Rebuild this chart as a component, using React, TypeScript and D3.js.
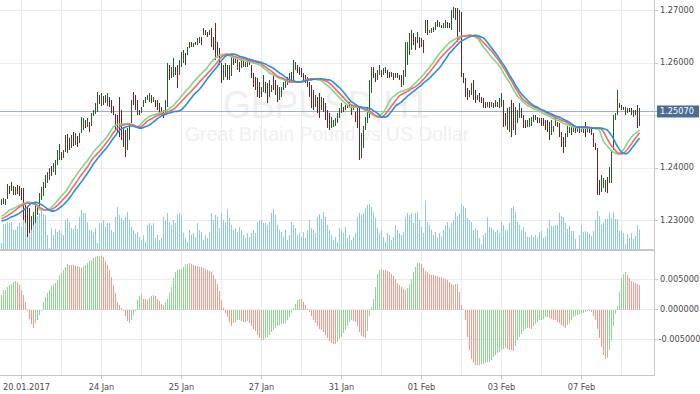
import React, { useRef, useEffect } from 'react';
import * as d3 from 'd3';

const symbol = 'GBPUSD,H1';
const description = 'Great Britain Pound vs US Dollar';
const dateLabels = ['20.01.2017', '24 Jan', '25 Jan', '27 Jan', '31 Jan', '01 Feb', '03 Feb', '07 Feb'];
const priceTicks = [1.23, 1.24, 1.25, 1.26, 1.27];
const aoTicks = [-0.005, 0, 0.005];
const lastPrice = 1.2507;

// H1 bars, oldest first
const opens = [
  1.2330,1.2340,1.2331,1.2343,1.2363,1.2357,1.2363,1.2349,1.2364,1.2363,
  1.2359,1.2358,1.2326,1.2322,1.2320,1.2284,1.2293,1.2298,1.2326,1.2330,
  1.2341,1.2349,1.2364,1.2372,1.2378,1.2401,1.2393,1.2388,1.2407,1.2417,
  1.2427,1.2420,1.2432,1.2460,1.2454,1.2439,1.2465,1.2444,1.2458,1.2448,
  1.2468,1.2474,1.2488,1.2479,1.2484,1.2483,1.2501,1.2504,1.2509,1.2536,
  1.2521,1.2535,1.2525,1.2521,1.2533,1.2527,1.2516,1.2499,1.2497,1.2530,
  1.2506,1.2474,1.2467,1.2437,1.2455,1.2488,1.2541,1.2535,1.2526,1.2508,
  1.2505,1.2518,1.2525,1.2530,1.2527,1.2536,1.2526,1.2527,1.2527,1.2521,
  1.2514,1.2508,1.2506,1.2524,1.2592,1.2573,1.2576,1.2590,1.2592,1.2579,
  1.2595,1.2601,1.2616,1.2616,1.2630,1.2638,1.2631,1.2634,1.2635,1.2638,
  1.2647,1.2654,1.2660,1.2657,1.2653,1.2663,1.2647,1.2670,1.2636,1.2625,
  1.2596,1.2570,1.2576,1.2592,1.2570,1.2578,1.2609,1.2608,1.2589,1.2599,
  1.2592,1.2603,1.2593,1.2594,1.2604,1.2593,1.2578,1.2571,1.2569,1.2561,
  1.2537,1.2547,1.2561,1.2558,1.2538,1.2546,1.2573,1.2564,1.2554,1.2531,
  1.2537,1.2550,1.2554,1.2559,1.2563,1.2580,1.2570,1.2588,1.2593,1.2590,
  1.2588,1.2578,1.2574,1.2571,1.2560,1.2554,1.2545,1.2518,1.2532,1.2538,
  1.2512,1.2530,1.2520,1.2507,1.2501,1.2477,1.2479,1.2482,1.2486,1.2497,
  1.2506,1.2515,1.2511,1.2518,1.2515,1.2517,1.2511,1.2504,1.2511,1.2510,
  1.2422,1.2441,1.2474,1.2487,1.2500,1.2546,1.2590,1.2578,1.2569,1.2578,
  1.2584,1.2578,1.2582,1.2584,1.2581,1.2574,1.2578,1.2572,1.2579,1.2575,
  1.2574,1.2560,1.2578,1.2599,1.2618,1.2628,1.2654,1.2646,1.2639,1.2647,
  1.2645,1.2640,1.2659,1.2678,1.2657,1.2658,1.2660,1.2664,1.2679,1.2669,
  1.2670,1.2667,1.2668,1.2676,1.2674,1.2665,1.2687,1.2702,1.2700,1.2662,
  1.2690,1.2578,1.2568,1.2550,1.2537,1.2540,1.2564,1.2546,1.2530,1.2540,
  1.2534,1.2531,1.2524,1.2517,1.2524,1.2517,1.2522,1.2517,1.2524,1.2516,
  1.2519,1.2525,1.2502,1.2475,1.2471,1.2524,1.2519,1.2466,1.2487,1.2498,
  1.2512,1.2498,1.2488,1.2479,1.2479,1.2482,1.2488,1.2499,1.2495,1.2486,
  1.2493,1.2493,1.2488,1.2488,1.2483,1.2464,1.2469,1.2482,1.2485,1.2482,
  1.2465,1.2455,1.2442,1.2461,1.2467,1.2475,1.2468,1.2474,1.2469,1.2476,
  1.2468,1.2476,1.2483,1.2468,1.2476,1.2474,1.2463,1.2445,1.2432,1.2373,
  1.2356,1.2363,1.2355,1.2379,1.2373,1.2375,1.2438,1.2492,1.2504,1.2522,
  1.2518,1.2515,1.2502,1.2505,1.2513,1.2512,1.2499,1.2509,1.2516,1.2484,
];
const highs = [
  1.2340,1.2342,1.2340,1.2368,1.2365,1.2372,1.2365,1.2363,1.2366,1.2365,
  1.2361,1.2361,1.2328,1.2325,1.2323,1.2308,1.2315,1.2332,1.2328,1.2351,
  1.2363,1.2372,1.2385,1.2391,1.2399,1.2403,1.2408,1.2414,1.2433,1.2444,
  1.2429,1.2433,1.2461,1.2463,1.2456,1.2461,1.2467,1.2465,1.2460,1.2465,
  1.2497,1.2495,1.2490,1.2495,1.2486,1.2504,1.2510,1.2523,1.2544,1.2538,
  1.2542,1.2537,1.2538,1.2542,1.2535,1.2529,1.2518,1.2502,1.2500,1.2535,
  1.2510,1.2477,1.2471,1.2475,1.2484,1.2529,1.2544,1.2538,1.2529,1.2510,
  1.2516,1.2529,1.2535,1.2538,1.2542,1.2538,1.2535,1.2529,1.2529,1.2523,
  1.2516,1.2510,1.2529,1.2599,1.2595,1.2592,1.2609,1.2592,1.2595,1.2605,
  1.2620,1.2624,1.2618,1.2630,1.2639,1.2639,1.2637,1.2639,1.2647,1.2649,
  1.2649,1.2666,1.2662,1.2658,1.2662,1.2666,1.2649,1.2675,1.2639,1.2628,
  1.2599,1.2595,1.2599,1.2595,1.2595,1.2611,1.2611,1.2609,1.2611,1.2601,
  1.2605,1.2605,1.2601,1.2605,1.2605,1.2595,1.2580,1.2573,1.2571,1.2563,
  1.2554,1.2576,1.2563,1.2561,1.2567,1.2557,1.2576,1.2567,1.2557,1.2554,
  1.2554,1.2563,1.2567,1.2573,1.2580,1.2582,1.2605,1.2601,1.2595,1.2592,
  1.2590,1.2580,1.2576,1.2573,1.2563,1.2557,1.2548,1.2538,1.2535,1.2542,
  1.2535,1.2533,1.2523,1.2510,1.2504,1.2497,1.2490,1.2495,1.2504,1.2514,
  1.2523,1.2516,1.2519,1.2519,1.2525,1.2519,1.2519,1.2506,1.2514,1.2516,
  1.2465,1.2480,1.2497,1.2516,1.2567,1.2592,1.2592,1.2580,1.2586,1.2595,
  1.2586,1.2590,1.2592,1.2586,1.2582,1.2582,1.2580,1.2580,1.2580,1.2576,
  1.2576,1.2586,1.2639,1.2639,1.2656,1.2662,1.2656,1.2649,1.2658,1.2649,
  1.2647,1.2643,1.2681,1.2681,1.2662,1.2666,1.2668,1.2677,1.2681,1.2677,
  1.2671,1.2675,1.2681,1.2677,1.2675,1.2700,1.2706,1.2704,1.2704,1.2700,
  1.2696,1.2580,1.2571,1.2552,1.2548,1.2561,1.2567,1.2548,1.2538,1.2542,
  1.2535,1.2533,1.2525,1.2525,1.2525,1.2525,1.2523,1.2529,1.2525,1.2533,
  1.2542,1.2529,1.2504,1.2514,1.2516,1.2529,1.2523,1.2516,1.2510,1.2523,
  1.2514,1.2500,1.2490,1.2490,1.2495,1.2497,1.2500,1.2500,1.2497,1.2495,
  1.2495,1.2495,1.2490,1.2490,1.2486,1.2490,1.2480,1.2495,1.2486,1.2484,
  1.2467,1.2458,1.2465,1.2480,1.2477,1.2477,1.2475,1.2475,1.2480,1.2477,
  1.2477,1.2477,1.2486,1.2477,1.2477,1.2475,1.2465,1.2446,1.2437,1.2376,
  1.2386,1.2380,1.2376,1.2382,1.2401,1.2433,1.2500,1.2504,1.2548,1.2523,
  1.2519,1.2516,1.2516,1.2514,1.2514,1.2514,1.2510,1.2510,1.2519,1.2514,
];
const lows = [
  1.2328,1.2330,1.2328,1.2340,1.2349,1.2355,1.2347,1.2347,1.2349,1.2346,
  1.2338,1.2300,1.2294,1.2268,1.2275,1.2281,1.2290,1.2294,1.2309,1.2327,
  1.2338,1.2346,1.2361,1.2370,1.2376,1.2384,1.2391,1.2385,1.2404,1.2414,
  1.2414,1.2418,1.2429,1.2427,1.2433,1.2437,1.2441,1.2442,1.2439,1.2446,
  1.2465,1.2471,1.2475,1.2477,1.2467,1.2480,1.2499,1.2502,1.2506,1.2521,
  1.2518,1.2519,1.2523,1.2518,1.2516,1.2504,1.2500,1.2471,1.2465,1.2458,
  1.2452,1.2439,1.2420,1.2433,1.2452,1.2484,1.2519,1.2510,1.2500,1.2500,
  1.2504,1.2516,1.2523,1.2529,1.2525,1.2523,1.2525,1.2516,1.2510,1.2504,
  1.2500,1.2495,1.2504,1.2516,1.2567,1.2571,1.2573,1.2576,1.2552,1.2576,
  1.2592,1.2599,1.2595,1.2614,1.2628,1.2630,1.2630,1.2633,1.2633,1.2637,
  1.2633,1.2652,1.2652,1.2649,1.2652,1.2630,1.2624,1.2605,1.2609,1.2595,
  1.2561,1.2567,1.2573,1.2567,1.2567,1.2575,1.2595,1.2599,1.2586,1.2582,
  1.2590,1.2592,1.2592,1.2592,1.2595,1.2571,1.2554,1.2548,1.2535,1.2532,
  1.2535,1.2544,1.2542,1.2523,1.2535,1.2544,1.2548,1.2538,1.2525,1.2529,
  1.2535,1.2548,1.2552,1.2557,1.2561,1.2561,1.2567,1.2586,1.2580,1.2576,
  1.2573,1.2567,1.2561,1.2554,1.2535,1.2514,1.2510,1.2516,1.2504,1.2495,
  1.2510,1.2506,1.2490,1.2475,1.2471,1.2475,1.2477,1.2480,1.2484,1.2495,
  1.2504,1.2506,1.2510,1.2514,1.2514,1.2500,1.2510,1.2486,1.2475,1.2414,
  1.2418,1.2437,1.2471,1.2484,1.2495,1.2542,1.2571,1.2563,1.2567,1.2576,
  1.2573,1.2576,1.2580,1.2571,1.2571,1.2573,1.2567,1.2571,1.2571,1.2567,
  1.2554,1.2557,1.2573,1.2595,1.2614,1.2624,1.2633,1.2624,1.2637,1.2628,
  1.2630,1.2618,1.2656,1.2652,1.2656,1.2656,1.2658,1.2662,1.2668,1.2668,
  1.2666,1.2666,1.2666,1.2666,1.2666,1.2662,1.2685,1.2681,1.2639,1.2658,
  1.2573,1.2561,1.2535,1.2529,1.2535,1.2538,1.2529,1.2523,1.2529,1.2525,
  1.2523,1.2514,1.2514,1.2516,1.2514,1.2516,1.2514,1.2516,1.2516,1.2514,
  1.2516,1.2477,1.2480,1.2471,1.2467,1.2458,1.2471,1.2461,1.2484,1.2495,
  1.2495,1.2475,1.2475,1.2477,1.2477,1.2480,1.2486,1.2490,1.2484,1.2484,
  1.2480,1.2480,1.2471,1.2467,1.2452,1.2461,1.2467,1.2480,1.2477,1.2458,
  1.2439,1.2427,1.2439,1.2458,1.2465,1.2461,1.2467,1.2465,1.2467,1.2465,
  1.2467,1.2465,1.2458,1.2467,1.2465,1.2461,1.2439,1.2433,1.2348,1.2348,
  1.2353,1.2361,1.2353,1.2351,1.2370,1.2370,1.2433,1.2490,1.2500,1.2514,
  1.2510,1.2510,1.2500,1.2504,1.2506,1.2500,1.2497,1.2500,1.2475,1.2480,
];
const closes = [
  1.2338,1.2332,1.2338,1.2365,1.2351,1.2370,1.2349,1.2361,1.2351,1.2348,
  1.2340,1.2304,1.2297,1.2272,1.2278,1.2305,1.2312,1.2328,1.2311,1.2348,
  1.2360,1.2369,1.2382,1.2388,1.2396,1.2386,1.2406,1.2411,1.2430,1.2441,
  1.2416,1.2431,1.2458,1.2430,1.2435,1.2458,1.2443,1.2463,1.2441,1.2463,
  1.2494,1.2492,1.2477,1.2493,1.2469,1.2501,1.2508,1.2520,1.2540,1.2523,
  1.2539,1.2521,1.2536,1.2539,1.2518,1.2506,1.2502,1.2474,1.2468,1.2462,
  1.2456,1.2442,1.2424,1.2471,1.2481,1.2525,1.2521,1.2513,1.2503,1.2502,
  1.2514,1.2527,1.2533,1.2537,1.2540,1.2525,1.2534,1.2518,1.2512,1.2506,
  1.2502,1.2497,1.2527,1.2590,1.2570,1.2590,1.2606,1.2578,1.2555,1.2602,
  1.2617,1.2622,1.2597,1.2628,1.2637,1.2631,1.2636,1.2638,1.2645,1.2648,
  1.2635,1.2664,1.2654,1.2650,1.2661,1.2633,1.2627,1.2610,1.2612,1.2598,
  1.2564,1.2592,1.2596,1.2570,1.2592,1.2608,1.2597,1.2600,1.2608,1.2584,
  1.2603,1.2594,1.2600,1.2603,1.2597,1.2573,1.2556,1.2550,1.2538,1.2535,
  1.2552,1.2573,1.2544,1.2526,1.2564,1.2555,1.2551,1.2541,1.2528,1.2552,
  1.2552,1.2561,1.2565,1.2571,1.2578,1.2563,1.2601,1.2599,1.2582,1.2578,
  1.2575,1.2569,1.2563,1.2556,1.2538,1.2517,1.2513,1.2536,1.2507,1.2499,
  1.2532,1.2509,1.2493,1.2478,1.2474,1.2495,1.2488,1.2493,1.2502,1.2512,
  1.2521,1.2507,1.2518,1.2515,1.2524,1.2502,1.2518,1.2488,1.2478,1.2420,
  1.2460,1.2476,1.2494,1.2513,1.2560,1.2588,1.2573,1.2565,1.2584,1.2593,
  1.2575,1.2588,1.2590,1.2573,1.2572,1.2581,1.2569,1.2579,1.2572,1.2568,
  1.2556,1.2583,1.2632,1.2635,1.2652,1.2658,1.2635,1.2627,1.2656,1.2630,
  1.2632,1.2621,1.2678,1.2655,1.2661,1.2664,1.2667,1.2675,1.2670,1.2676,
  1.2667,1.2674,1.2679,1.2667,1.2667,1.2696,1.2704,1.2683,1.2643,1.2696,
  1.2578,1.2563,1.2538,1.2531,1.2546,1.2559,1.2532,1.2525,1.2537,1.2527,
  1.2524,1.2516,1.2515,1.2524,1.2515,1.2524,1.2515,1.2527,1.2517,1.2531,
  1.2539,1.2481,1.2482,1.2510,1.2512,1.2463,1.2475,1.2512,1.2507,1.2520,
  1.2497,1.2477,1.2477,1.2488,1.2493,1.2495,1.2498,1.2491,1.2486,1.2493,
  1.2482,1.2482,1.2473,1.2469,1.2456,1.2487,1.2478,1.2493,1.2478,1.2461,
  1.2442,1.2430,1.2462,1.2477,1.2475,1.2463,1.2474,1.2466,1.2478,1.2466,
  1.2476,1.2466,1.2461,1.2476,1.2466,1.2463,1.2442,1.2434,1.2352,1.2351,
  1.2383,1.2378,1.2373,1.2354,1.2398,1.2428,1.2495,1.2502,1.2543,1.2515,
  1.2511,1.2511,1.2514,1.2513,1.2507,1.2502,1.2508,1.2501,1.2479,1.2507,
];
const volumes = [
  670,2600,2600,2800,2700,2800,2100,2000,2400,2700,
  2300,3800,3000,3000,2700,2800,3300,3000,3400,3700,
  4200,3600,3500,1500,200,2200,1500,2100,1800,2000,
  1700,1500,3000,3200,2800,2200,2100,2500,2100,3300,
  4000,3700,3700,2800,2000,2000,1700,2200,700,2700,
  2700,3000,2300,2700,2700,2000,1800,3300,4300,3500,
  3200,3000,3300,3800,3000,2300,2000,1600,1800,1300,
  1000,1500,800,2500,2700,2500,2700,1200,1500,1000,
  1200,3300,3000,3700,2800,2500,3000,2700,3500,3700,
  3500,1700,1200,800,2000,1500,1700,1300,2700,2000,
  1800,1000,1500,1200,1700,3700,3000,3500,3300,2200,
  3700,3000,2800,4100,3200,2500,2000,2200,1800,2300,
  2000,1500,1200,1700,1300,1700,2000,1700,2800,3000,
  3000,2700,2700,2500,2800,3700,4100,3500,2500,2000,
  1800,1300,2000,1000,1500,2800,2500,2200,1500,1700,
  1300,1800,1200,2000,3000,2200,2000,1700,3300,3600,
  3100,3800,3300,2500,2000,1500,1000,1300,800,2200,
  2000,1700,2300,1200,1500,1000,1300,1700,3300,3700,
  3500,3700,4200,4500,4600,4300,3800,3200,2200,1700,
  2000,1300,800,1700,1500,1000,1300,2500,2000,1700,
  1500,1800,3300,3700,3500,3700,2700,3700,3800,3000,
  2300,1700,4900,2800,2500,2000,1500,1800,1200,1700,
  1300,2000,2500,2800,2200,2700,3000,3800,3300,3600,
  4600,4400,4200,3200,3000,2800,2000,2200,2000,1200,
  500,1500,1700,3300,2300,2200,2000,1800,2000,1700,
  2800,2500,2000,2000,2700,4200,4400,3800,2800,2500,
  2000,2300,1800,1300,1300,1500,1300,1500,1200,1800,
  1900,1200,1300,2200,3000,2400,2400,2500,2500,3700,
  3400,3300,2700,2100,2400,1900,1900,1100,100,1500,
  2500,1800,1900,1800,1600,1400,1900,3000,3900,3400,
  2500,2700,3100,3100,3700,3200,3800,3100,3100,1900,
  2000,1700,500,1600,1200,1700,1100,1400,2500,2000,
];
// Alligator: lips (green), teeth (red), jaw (blue)
const lips = [
  1.2307,1.2309,1.2312,1.2315,1.2319,1.2320,1.2322,1.2324,1.2326,1.2328,
  1.2330,1.2331,1.2333,1.2334,1.2334,1.2333,1.2331,1.2329,1.2326,1.2320,
  1.2319,1.2319,1.2319,1.2320,1.2321,1.2324,1.2328,1.2332,1.2337,1.2341,
  1.2346,1.2350,1.2354,1.2359,1.2365,1.2372,1.2378,1.2383,1.2389,1.2394,
  1.2399,1.2404,1.2409,1.2413,1.2419,1.2424,1.2430,1.2434,1.2438,1.2442,
  1.2447,1.2451,1.2455,1.2460,1.2466,1.2472,1.2478,1.2480,1.2482,1.2483,
  1.2483,1.2483,1.2483,1.2483,1.2482,1.2481,1.2480,1.2478,1.2477,1.2480,
  1.2484,1.2488,1.2492,1.2495,1.2497,1.2499,1.2500,1.2501,1.2503,1.2504,
  1.2505,1.2507,1.2508,1.2510,1.2512,1.2515,1.2518,1.2523,1.2527,1.2531,
  1.2536,1.2540,1.2545,1.2549,1.2553,1.2558,1.2563,1.2567,1.2571,1.2575,
  1.2579,1.2583,1.2586,1.2591,1.2596,1.2601,1.2606,1.2609,1.2611,1.2614,
  1.2615,1.2615,1.2616,1.2615,1.2613,1.2611,1.2609,1.2608,1.2607,1.2605,
  1.2605,1.2604,1.2603,1.2602,1.2601,1.2600,1.2599,1.2598,1.2597,1.2595,
  1.2593,1.2590,1.2587,1.2584,1.2580,1.2578,1.2576,1.2574,1.2572,1.2570,
  1.2569,1.2567,1.2566,1.2564,1.2563,1.2563,1.2563,1.2563,1.2563,1.2563,
  1.2564,1.2565,1.2567,1.2568,1.2569,1.2569,1.2568,1.2568,1.2567,1.2567,
  1.2565,1.2562,1.2559,1.2556,1.2553,1.2549,1.2545,1.2541,1.2537,1.2533,
  1.2529,1.2526,1.2522,1.2519,1.2515,1.2515,1.2515,1.2515,1.2515,1.2515,
  1.2513,1.2511,1.2509,1.2507,1.2504,1.2502,1.2500,1.2497,1.2496,1.2499,
  1.2502,1.2505,1.2512,1.2519,1.2527,1.2532,1.2535,1.2538,1.2541,1.2544,
  1.2545,1.2546,1.2548,1.2549,1.2551,1.2554,1.2558,1.2561,1.2565,1.2569,
  1.2573,1.2577,1.2582,1.2586,1.2590,1.2596,1.2601,1.2607,1.2612,1.2617,
  1.2622,1.2626,1.2630,1.2634,1.2638,1.2641,1.2643,1.2645,1.2647,1.2650,
  1.2650,1.2651,1.2651,1.2652,1.2652,1.2651,1.2650,1.2648,1.2646,1.2641,
  1.2635,1.2629,1.2625,1.2620,1.2615,1.2610,1.2606,1.2602,1.2598,1.2593,
  1.2587,1.2580,1.2574,1.2568,1.2562,1.2555,1.2548,1.2542,1.2536,1.2532,
  1.2528,1.2524,1.2521,1.2518,1.2516,1.2514,1.2512,1.2510,1.2509,1.2507,
  1.2505,1.2503,1.2501,1.2499,1.2497,1.2495,1.2493,1.2491,1.2490,1.2488,
  1.2486,1.2484,1.2483,1.2481,1.2480,1.2478,1.2477,1.2477,1.2476,1.2476,
  1.2475,1.2475,1.2475,1.2475,1.2475,1.2475,1.2475,1.2474,1.2473,1.2471,
  1.2460,1.2450,1.2445,1.2440,1.2436,1.2432,1.2429,1.2427,1.2426,1.2427,
  1.2430,1.2434,1.2440,1.2447,1.2453,1.2458,1.2462,1.2465,1.2468,1.2471,
];
const teeth = [
  1.2302,1.2304,1.2306,1.2308,1.2311,1.2313,1.2316,1.2319,1.2322,1.2325,
  1.2327,1.2329,1.2331,1.2332,1.2332,1.2332,1.2331,1.2330,1.2328,1.2324,
  1.2322,1.2320,1.2319,1.2319,1.2319,1.2320,1.2322,1.2325,1.2328,1.2332,
  1.2336,1.2340,1.2344,1.2348,1.2353,1.2359,1.2364,1.2370,1.2375,1.2381,
  1.2386,1.2391,1.2396,1.2401,1.2408,1.2414,1.2419,1.2423,1.2427,1.2431,
  1.2435,1.2440,1.2445,1.2450,1.2455,1.2461,1.2467,1.2471,1.2475,1.2478,
  1.2480,1.2481,1.2482,1.2483,1.2483,1.2482,1.2481,1.2479,1.2477,1.2477,
  1.2478,1.2481,1.2485,1.2489,1.2491,1.2493,1.2495,1.2497,1.2499,1.2501,
  1.2502,1.2503,1.2504,1.2506,1.2507,1.2509,1.2511,1.2514,1.2518,1.2522,
  1.2526,1.2530,1.2534,1.2538,1.2542,1.2546,1.2550,1.2554,1.2558,1.2563,
  1.2567,1.2571,1.2575,1.2579,1.2583,1.2587,1.2592,1.2596,1.2601,1.2606,
  1.2611,1.2613,1.2615,1.2616,1.2615,1.2614,1.2612,1.2611,1.2610,1.2609,
  1.2608,1.2607,1.2606,1.2605,1.2604,1.2603,1.2602,1.2601,1.2600,1.2599,
  1.2597,1.2594,1.2592,1.2589,1.2586,1.2583,1.2580,1.2577,1.2574,1.2572,
  1.2571,1.2569,1.2567,1.2565,1.2563,1.2563,1.2563,1.2563,1.2563,1.2563,
  1.2564,1.2565,1.2566,1.2567,1.2568,1.2569,1.2569,1.2569,1.2569,1.2569,
  1.2568,1.2566,1.2565,1.2563,1.2561,1.2557,1.2553,1.2549,1.2545,1.2541,
  1.2537,1.2533,1.2529,1.2525,1.2521,1.2519,1.2518,1.2517,1.2516,1.2515,
  1.2514,1.2512,1.2511,1.2509,1.2507,1.2505,1.2502,1.2499,1.2497,1.2496,
  1.2496,1.2498,1.2502,1.2507,1.2512,1.2517,1.2522,1.2527,1.2532,1.2537,
  1.2539,1.2541,1.2543,1.2545,1.2547,1.2550,1.2552,1.2554,1.2557,1.2560,
  1.2564,1.2568,1.2572,1.2577,1.2581,1.2586,1.2591,1.2596,1.2601,1.2606,
  1.2611,1.2615,1.2619,1.2623,1.2627,1.2630,1.2634,1.2638,1.2642,1.2646,
  1.2649,1.2650,1.2650,1.2651,1.2652,1.2652,1.2651,1.2650,1.2649,1.2646,
  1.2642,1.2638,1.2634,1.2630,1.2626,1.2622,1.2617,1.2612,1.2607,1.2602,
  1.2596,1.2590,1.2584,1.2578,1.2571,1.2565,1.2558,1.2551,1.2545,1.2539,
  1.2533,1.2529,1.2526,1.2523,1.2520,1.2518,1.2516,1.2514,1.2513,1.2511,
  1.2509,1.2507,1.2505,1.2503,1.2501,1.2499,1.2497,1.2495,1.2494,1.2492,
  1.2490,1.2488,1.2487,1.2485,1.2483,1.2482,1.2480,1.2478,1.2477,1.2477,
  1.2477,1.2477,1.2477,1.2477,1.2476,1.2476,1.2475,1.2475,1.2475,1.2475,
  1.2473,1.2468,1.2461,1.2454,1.2447,1.2441,1.2437,1.2432,1.2428,1.2426,
  1.2426,1.2427,1.2430,1.2435,1.2440,1.2445,1.2451,1.2456,1.2461,1.2466,
];
const jaw = [
  1.2298,1.2299,1.2300,1.2302,1.2304,1.2306,1.2307,1.2309,1.2311,1.2313,
  1.2316,1.2319,1.2322,1.2325,1.2329,1.2332,1.2333,1.2334,1.2333,1.2331,
  1.2329,1.2327,1.2324,1.2321,1.2319,1.2317,1.2317,1.2318,1.2320,1.2323,
  1.2326,1.2329,1.2333,1.2337,1.2342,1.2347,1.2353,1.2358,1.2363,1.2368,
  1.2373,1.2378,1.2384,1.2389,1.2395,1.2401,1.2407,1.2412,1.2417,1.2422,
  1.2426,1.2431,1.2435,1.2440,1.2445,1.2451,1.2456,1.2461,1.2466,1.2471,
  1.2474,1.2475,1.2477,1.2478,1.2479,1.2479,1.2479,1.2477,1.2476,1.2475,
  1.2475,1.2476,1.2478,1.2479,1.2481,1.2484,1.2487,1.2490,1.2493,1.2496,
  1.2498,1.2500,1.2501,1.2503,1.2504,1.2505,1.2506,1.2507,1.2507,1.2508,
  1.2510,1.2514,1.2518,1.2523,1.2528,1.2533,1.2538,1.2542,1.2545,1.2549,
  1.2554,1.2559,1.2564,1.2570,1.2574,1.2579,1.2584,1.2588,1.2593,1.2599,
  1.2604,1.2608,1.2612,1.2614,1.2615,1.2616,1.2616,1.2615,1.2614,1.2612,
  1.2611,1.2610,1.2609,1.2607,1.2606,1.2605,1.2604,1.2603,1.2602,1.2601,
  1.2600,1.2598,1.2597,1.2595,1.2593,1.2591,1.2589,1.2586,1.2583,1.2580,
  1.2578,1.2575,1.2572,1.2569,1.2567,1.2566,1.2565,1.2564,1.2563,1.2563,
  1.2563,1.2564,1.2565,1.2566,1.2567,1.2567,1.2568,1.2568,1.2569,1.2569,
  1.2569,1.2568,1.2568,1.2567,1.2567,1.2565,1.2562,1.2559,1.2555,1.2552,
  1.2548,1.2544,1.2539,1.2534,1.2529,1.2525,1.2523,1.2520,1.2518,1.2515,
  1.2515,1.2514,1.2514,1.2513,1.2513,1.2511,1.2508,1.2506,1.2503,1.2500,
  1.2496,1.2496,1.2496,1.2498,1.2502,1.2507,1.2512,1.2517,1.2520,1.2522,
  1.2525,1.2529,1.2532,1.2536,1.2539,1.2542,1.2545,1.2548,1.2551,1.2554,
  1.2557,1.2561,1.2564,1.2567,1.2570,1.2574,1.2578,1.2582,1.2586,1.2590,
  1.2595,1.2601,1.2606,1.2612,1.2618,1.2621,1.2626,1.2630,1.2634,1.2638,
  1.2641,1.2643,1.2645,1.2647,1.2649,1.2650,1.2651,1.2652,1.2651,1.2650,
  1.2648,1.2647,1.2643,1.2638,1.2633,1.2628,1.2623,1.2618,1.2613,1.2607,
  1.2601,1.2596,1.2590,1.2583,1.2576,1.2570,1.2564,1.2557,1.2551,1.2545,
  1.2540,1.2536,1.2532,1.2528,1.2524,1.2521,1.2518,1.2516,1.2515,1.2512,
  1.2510,1.2509,1.2507,1.2505,1.2504,1.2502,1.2500,1.2498,1.2497,1.2496,
  1.2494,1.2492,1.2490,1.2488,1.2486,1.2483,1.2480,1.2478,1.2477,1.2477,
  1.2477,1.2477,1.2477,1.2476,1.2476,1.2475,1.2475,1.2475,1.2475,1.2475,
  1.2475,1.2474,1.2473,1.2471,1.2466,1.2461,1.2455,1.2447,1.2440,1.2434,
  1.2429,1.2427,1.2426,1.2427,1.2431,1.2436,1.2441,1.2446,1.2451,1.2456,
];
// Awesome Oscillator
const ao = [
  0.00239,0.00322,0.00333,0.00378,0.00406,0.00433,0.00461,0.00478,0.00461,0.00406,
  0.00322,0.00239,0.00128,-0.00011,-0.00150,-0.00244,-0.00300,-0.00222,-0.00167,-0.00094,
  -0.00011,0.00128,0.00211,0.00278,0.00333,0.00389,0.00422,0.00444,0.00500,0.00572,
  0.00611,0.00656,0.00711,0.00761,0.00750,0.00744,0.00739,0.00728,0.00717,0.00711,
  0.00700,0.00722,0.00750,0.00778,0.00806,0.00833,0.00856,0.00878,0.00889,0.00894,
  0.00889,0.00867,0.00811,0.00739,0.00656,0.00544,0.00406,0.00267,0.00128,0.00072,
  0.00017,-0.00022,-0.00111,-0.00189,-0.00217,-0.00178,-0.00094,0.00000,0.00156,0.00222,
  0.00256,0.00183,0.00167,0.00156,0.00189,0.00228,0.00250,0.00228,0.00178,0.00144,
  0.00100,0.00072,0.00128,0.00183,0.00267,0.00367,0.00517,0.00628,0.00656,0.00667,
  0.00683,0.00711,0.00744,0.00761,0.00767,0.00756,0.00744,0.00733,0.00722,0.00711,
  0.00706,0.00694,0.00678,0.00661,0.00650,0.00622,0.00572,0.00511,0.00422,0.00311,
  0.00156,0.00017,-0.00050,-0.00122,-0.00211,-0.00267,-0.00233,-0.00206,-0.00183,-0.00178,
  -0.00189,-0.00206,-0.00211,-0.00194,-0.00222,-0.00267,-0.00317,-0.00361,-0.00428,-0.00483,
  -0.00506,-0.00500,-0.00483,-0.00456,-0.00422,-0.00383,-0.00339,-0.00300,-0.00278,-0.00261,
  -0.00244,-0.00239,-0.00217,-0.00178,-0.00122,-0.00050,0.00022,0.00094,0.00156,0.00183,
  0.00178,0.00128,0.00067,0.00011,-0.00044,-0.00100,-0.00167,-0.00222,-0.00278,-0.00317,
  -0.00339,-0.00378,-0.00433,-0.00483,-0.00517,-0.00556,-0.00578,-0.00583,-0.00539,-0.00494,
  -0.00450,-0.00394,-0.00339,-0.00283,-0.00206,-0.00178,-0.00189,-0.00206,-0.00278,-0.00367,
  -0.00444,-0.00461,-0.00472,-0.00356,-0.00111,0.00044,0.00167,0.00378,0.00600,0.00656,
  0.00667,0.00661,0.00656,0.00644,0.00622,0.00594,0.00556,0.00511,0.00444,0.00406,
  0.00378,0.00350,0.00322,0.00356,0.00411,0.00506,0.00617,0.00711,0.00767,0.00783,
  0.00756,0.00689,0.00650,0.00617,0.00600,0.00578,0.00567,0.00561,0.00556,0.00550,
  0.00544,0.00533,0.00506,0.00489,0.00461,0.00433,0.00411,0.00433,0.00417,0.00294,
  0.00072,0.00011,-0.00178,-0.00456,-0.00678,-0.00833,-0.00894,-0.00922,-0.00928,-0.00917,
  -0.00911,-0.00906,-0.00894,-0.00883,-0.00867,-0.00839,-0.00794,-0.00756,-0.00728,-0.00700,
  -0.00667,-0.00650,-0.00644,-0.00661,-0.00667,-0.00678,-0.00689,-0.00611,-0.00511,-0.00456,
  -0.00406,-0.00356,-0.00317,-0.00300,-0.00311,-0.00322,-0.00283,-0.00244,-0.00206,-0.00178,
  -0.00167,-0.00150,-0.00133,-0.00128,-0.00144,-0.00161,-0.00172,-0.00183,-0.00206,-0.00233,
  -0.00261,-0.00289,-0.00300,-0.00261,-0.00228,-0.00178,-0.00133,-0.00111,-0.00094,-0.00078,
  -0.00067,-0.00056,-0.00039,-0.00028,-0.00022,-0.00044,-0.00100,-0.00183,-0.00322,-0.00467,
  -0.00622,-0.00761,-0.00833,-0.00811,-0.00678,-0.00500,-0.00278,-0.00078,0.00056,0.00294,
  0.00517,0.00600,0.00628,0.00572,0.00517,0.00483,0.00461,0.00444,0.00428,0.00406,
];

const App: React.FC = () => {
  const svgRef = useRef<SVGSVGElement>(null);

  useEffect(() => {
    if (!svgRef.current) return;
    document.body.style.margin = '0';

    const svg = d3.select(svgRef.current);
    svg.selectAll('*').remove();

    const width = 700;
    const height = 394;
    const plotRight = 654;
    const mainBottom = 250;
    const aoBottom = 375;
    const axisFont = 'DejaVu Sans';
    const n = closes.length;
    // plain hyphen for negatives, like the terminal
    const fmt = (spec: string) => (v: number) => d3.format(spec)(v).replace('\u2212', '-');

    svg.attr('width', width).attr('height', height);
    svg.append('rect').attr('width', width).attr('height', height).attr('fill', '#ffffff');

    const x = d3.scaleLinear().domain([0, n - 1]).range([1.5, 1.5 + 2 * (n - 1)]);
    const y = d3.scaleLinear().domain([1.23, 1.27]).range([220, 10]);
    const yVol = d3.scaleLinear().domain([0, 5000]).range([mainBottom, 200]);
    const yAo = d3.scaleLinear().domain([-0.005, 0.005]).range([339.5, 279.5]);

    const gridIdx = d3.range(10, n, 20);
    const labelIdx = d3.range(10, n, 40);

    // Watermark
    svg.append('text')
      .attr('x', 223).attr('y', 118)
      .attr('textLength', 206).attr('lengthAdjust', 'spacingAndGlyphs')
      .style('font-family', 'Liberation Sans').style('font-size', '38px')
      .style('fill', '#efefef')
      .text(symbol);
    svg.append('text')
      .attr('x', 185).attr('y', 141)
      .attr('textLength', 284).attr('lengthAdjust', 'spacingAndGlyphs')
      .style('font-family', 'Liberation Sans').style('font-size', '20px')
      .style('fill', '#efefef')
      .text(description);

    // Grid
    const grid = svg.append('g').attr('stroke', '#ebebeb').attr('stroke-width', 1).attr('shape-rendering', 'crispEdges');
    gridIdx.forEach(i => {
      grid.append('line').attr('x1', x(i)).attr('x2', x(i)).attr('y1', 0).attr('y2', aoBottom);
    });
    priceTicks.forEach(p => {
      grid.append('line').attr('x1', 0).attr('x2', plotRight).attr('y1', Math.round(y(p)) + 0.5).attr('y2', Math.round(y(p)) + 0.5);
    });
    aoTicks.forEach(v => {
      grid.append('line').attr('x1', 0).attr('x2', plotRight).attr('y1', yAo(v)).attr('y2', yAo(v));
    });

    // Volumes
    svg.append('g').attr('shape-rendering', 'crispEdges')
      .selectAll('rect').data(volumes).enter().append('rect')
      .attr('x', (d, i) => x(i) - 0.5)
      .attr('width', 1)
      .attr('y', d => yVol(d))
      .attr('height', d => mainBottom - yVol(d))
      .attr('fill', '#8ec6ec');

    // Awesome Oscillator
    svg.append('g').attr('shape-rendering', 'crispEdges')
      .selectAll('rect').data(ao).enter().append('rect')
      .attr('x', (d, i) => x(i) - 0.5)
      .attr('width', 1)
      .attr('y', d => Math.min(yAo(d), yAo(0)))
      .attr('height', d => Math.max(1, Math.abs(yAo(d) - yAo(0))))
      .attr('fill', (d, i) => (i === 0 || d > ao[i - 1]) ? '#92d394' : '#f29b8d');

    // Current price line
    const py = Math.round(y(lastPrice)) + 0.5;
    svg.append('line')
      .attr('x1', 0).attr('x2', plotRight + 3)
      .attr('y1', py).attr('y2', py)
      .attr('stroke', '#9eb0c4').attr('stroke-width', 1);

    // Price bars
    svg.append('g').attr('shape-rendering', 'crispEdges')
      .selectAll('line').data(closes).enter().append('line')
      .attr('x1', (d, i) => x(i)).attr('x2', (d, i) => x(i))
      .attr('y1', (d, i) => y(highs[i]))
      .attr('y2', (d, i) => y(lows[i]))
      .attr('stroke', (d, i) => d >= opens[i] ? '#24612a' : '#6e2424')
      .attr('stroke-width', 1);

    // Alligator
    const line = d3.line<number>().x((d, i) => x(i)).y(d => y(d));
    [[lips, '#86d486'], [teeth, '#f26a6a'], [jaw, '#2a8fdc']].forEach(([data, color]) => {
      svg.append('path')
        .datum(data as number[])
        .attr('d', line)
        .attr('fill', 'none')
        .attr('stroke', color as string)
        .attr('stroke-width', 1.6);
    });

    // Frame
    const frame = svg.append('g').attr('stroke', '#c6c6c6').attr('shape-rendering', 'crispEdges');
    frame.append('line').attr('x1', plotRight + 0.5).attr('x2', plotRight + 0.5).attr('y1', 0).attr('y2', aoBottom + 1);
    frame.append('line').attr('x1', 0).attr('x2', plotRight).attr('y1', mainBottom).attr('y2', mainBottom).attr('stroke-width', 2);
    frame.append('line').attr('x1', 0).attr('x2', plotRight).attr('y1', aoBottom + 0.5).attr('y2', aoBottom + 0.5).attr('stroke-width', 1.5);

    // Right axis: prices (the one under the current price label is hidden)
    priceTicks.forEach(p => {
      frame.append('line').attr('x1', plotRight).attr('x2', plotRight + 4).attr('y1', Math.round(y(p)) + 0.5).attr('y2', Math.round(y(p)) + 0.5);
      if (Math.abs(y(p) - py) < 10) return;
      svg.append('text')
        .attr('x', 660).attr('y', y(p)).attr('dy', '0.35em')
        .style('font-family', axisFont).style('font-size', '8.2px').style('fill', '#4a4a4a')
        .text(fmt('.5f')(p));
    });
    aoTicks.forEach(v => {
      frame.append('line').attr('x1', plotRight).attr('x2', plotRight + 4).attr('y1', yAo(v)).attr('y2', yAo(v));
      svg.append('text')
        .attr('x', v < 0 ? 658.5 : 660).attr('y', yAo(v)).attr('dy', '0.35em')
        .style('font-family', axisFont).style('font-size', '8.2px').style('fill', '#4a4a4a')
        .text(fmt('.6f')(v));
    });

    // Current price label
    svg.append('rect')
      .attr('x', 657).attr('y', py - 6).attr('width', 42).attr('height', 12)
      .attr('fill', '#4b6d95');
    svg.append('text')
      .attr('x', 660).attr('y', py).attr('dy', '0.35em')
      .style('font-family', axisFont).style('font-size', '8.2px').style('fill', '#ffffff')
      .text(fmt('.5f')(lastPrice));

    // Bottom axis: dates
    labelIdx.forEach((idx, k) => {
      frame.append('line').attr('x1', x(idx)).attr('x2', x(idx)).attr('y1', aoBottom).attr('y2', aoBottom + 4);
      const t = svg.append('text')
        .attr('x', x(idx)).attr('y', 390)
        .attr('text-anchor', 'middle')
        .style('font-family', axisFont).style('font-size', '8.2px').style('fill', '#4a4a4a')
        .text(dateLabels[k]);
      const box = (t.node() as SVGTextElement).getBBox();
      if (box.x < 3) t.attr('x', x(idx) + (3 - box.x));
    });
  }, []);

  return <svg ref={svgRef} style={{ display: 'block' }}></svg>;
};

export default App;
